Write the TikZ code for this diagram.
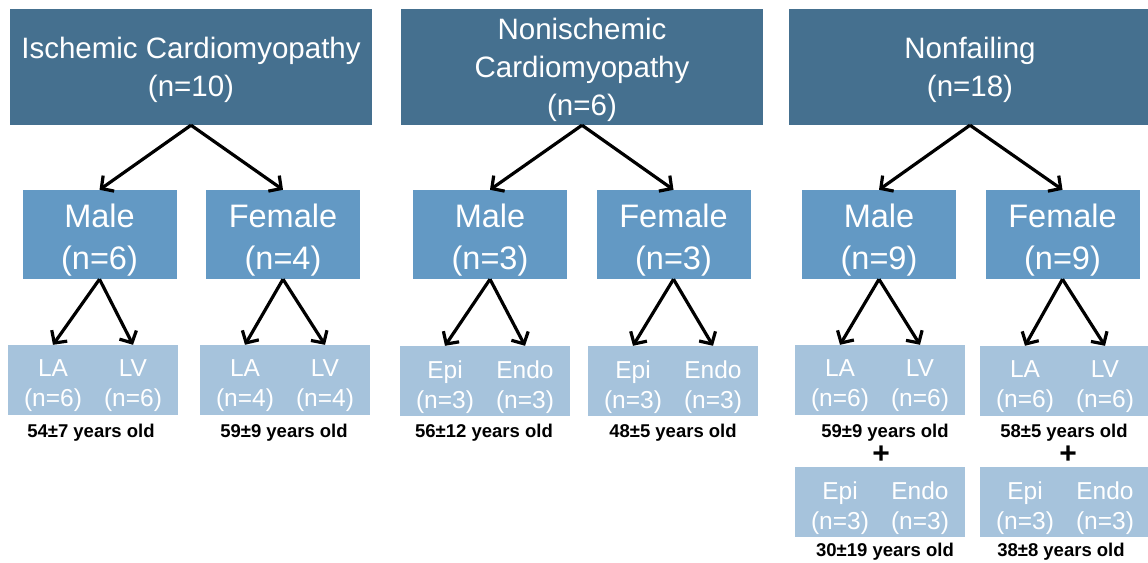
\documentclass[tikz,border=0pt]{standalone}
\usepackage{fontspec}
\setmainfont{Liberation Sans}
\usetikzlibrary{arrows.meta}
\definecolor{topblue}{HTML}{45708F}
\definecolor{midblue}{HTML}{6399C4}
\definecolor{lowblue}{HTML}{A6C3DC}
\begin{document}
\begin{tikzpicture}[x=1pt,y=-1pt,
 topbox/.style={fill=topblue,minimum width=362pt,minimum height=116pt,inner sep=0pt},
 sexbox/.style={fill=midblue,minimum width=154pt,minimum height=89pt,inner sep=0pt},
 toptext/.style={text=white,align=center,inner sep=0pt,font=\fontsize{29.5}{38}\selectfont},
 sextext/.style={text=white,align=center,inner sep=0pt,font=\fontsize{32.5}{42}\selectfont},
 sitebox/.style={fill=lowblue,minimum width=170pt,minimum height=70pt,inner sep=0pt},
 sitetext/.style={text=white,align=center,inner sep=0pt,font=\fontsize{24.5}{30}\selectfont},
 agetext/.style={font=\bfseries\fontsize{18.5}{22}\selectfont,inner sep=0pt},
 plustext/.style={font=\bfseries\fontsize{30}{30}\selectfont,inner sep=0pt},
 arr/.style={draw=black,line width=3.2pt,-{Straight Barb[length=9pt,width=19pt]}}
]
\useasboundingbox (0,0) rectangle (1148,562);
\clip (0,0) rectangle (1148,562);
\fill[white] (0,0) rectangle (1148,562);
% top
\node[topbox] (t1) at (191,67) {};
\node[topbox] (t2) at (582,67) {};
\node[topbox] (t3) at (970,67) {};
\node[toptext] (t1x) at (191,70) {Ischemic Cardiomyopathy\\(n=10)};
\node[toptext] (t2x) at (582,70) {Nonischemic\\Cardiomyopathy\\(n=6)};
\node[toptext] (t3x) at (970,70) {Nonfailing\\(n=18)};
% sex
\node[sexbox] (m1) at (99.5,234.5) {};
\node[sexbox] (f1) at (283,234.5) {};
\node[sexbox] (m2) at (490,234.5) {};
\node[sexbox] (f2) at (673.5,234.5) {};
\node[sexbox] (m3) at (879,234.5) {};
\node[sexbox] (f3) at (1062.5,234.5) {};
\node[sextext] (m1x) at (99.5,240) {Male\\(n=6)};
\node[sextext] (f1x) at (283,240) {Female\\(n=4)};
\node[sextext] (m2x) at (490,240) {Male\\(n=3)};
\node[sextext] (f2x) at (673.5,240) {Female\\(n=3)};
\node[sextext] (m3x) at (879,240) {Male\\(n=9)};
\node[sextext] (f3x) at (1062.5,240) {Female\\(n=9)};
% site boxes
\node[sitebox] (s1m) at (93,380) {};
\node[sitebox] (s1f) at (285,380) {};
\node[sitebox] (s2m) at (485,381) {};
\node[sitebox] (s2f) at (673,381) {};
\node[sitebox] (s3m) at (880,380) {};
\node[sitebox] (s3f) at (1065,381) {};
\node[sitebox] (e3m) at (880,502) {};
\node[sitebox] (e3f) at (1065,502) {};
% site texts
\node[sitetext] (s1mL) at (53,386) {LA\\(n=6)};
\node[sitetext] (s1mR) at (133,386) {LV\\(n=6)};
\node[sitetext] (s1fL) at (245,386) {LA\\(n=4)};
\node[sitetext] (s1fR) at (325,386) {LV\\(n=4)};
\node[sitetext] (s2mL) at (445,387) {Epi\\(n=3)};
\node[sitetext] (s2mR) at (525,387) {Endo\\(n=3)};
\node[sitetext] (s2fL) at (633,387) {Epi\\(n=3)};
\node[sitetext] (s2fR) at (713,387) {Endo\\(n=3)};
\node[sitetext] (s3mL) at (840,386) {LA\\(n=6)};
\node[sitetext] (s3mR) at (920,386) {LV\\(n=6)};
\node[sitetext] (s3fL) at (1025,387) {LA\\(n=6)};
\node[sitetext] (s3fR) at (1105,387) {LV\\(n=6)};
\node[sitetext] (e3mL) at (840,508) {Epi\\(n=3)};
\node[sitetext] (e3mR) at (920,508) {Endo\\(n=3)};
\node[sitetext] (e3fL) at (1025,508) {Epi\\(n=3)};
\node[sitetext] (e3fR) at (1105,508) {Endo\\(n=3)};
% ages
\node[agetext] (a1m) at (91,433) {54±7 years old};
\node[agetext] (a1f) at (284,433) {59±9 years old};
\node[agetext] (a2m) at (484,433) {56±12 years old};
\node[agetext] (a2f) at (673,433) {48±5 years old};
\node[agetext] (a3m) at (885,433) {59±9 years old};
\node[agetext] (a3f) at (1064,433) {58±5 years old};
\node[plustext] (p3m) at (881,455) {+};
\node[plustext] (p3f) at (1068,455) {+};
\node[agetext] (b3m) at (885,552) {30±19 years old};
\node[agetext] (b3f) at (1061,552) {38±8 years old};
% arrows
\foreach \t/\a/\b in {t1/m1/f1,t2/m2/f2,t3/m3/f3}{
  \draw[arr] (\t.south) -- (\a.north);
  \draw[arr] (\t.south) -- (\b.north);
}
\foreach \p/\s in {m1/s1m,f1/s1f,m2/s2m,f2/s2f,m3/s3m,f3/s3f}{
  \draw[arr] (\p.south) -- (\s L |- \s.north);
  \draw[arr] (\p.south) -- (\s R |- \s.north);
}
\end{tikzpicture}
\end{document}
